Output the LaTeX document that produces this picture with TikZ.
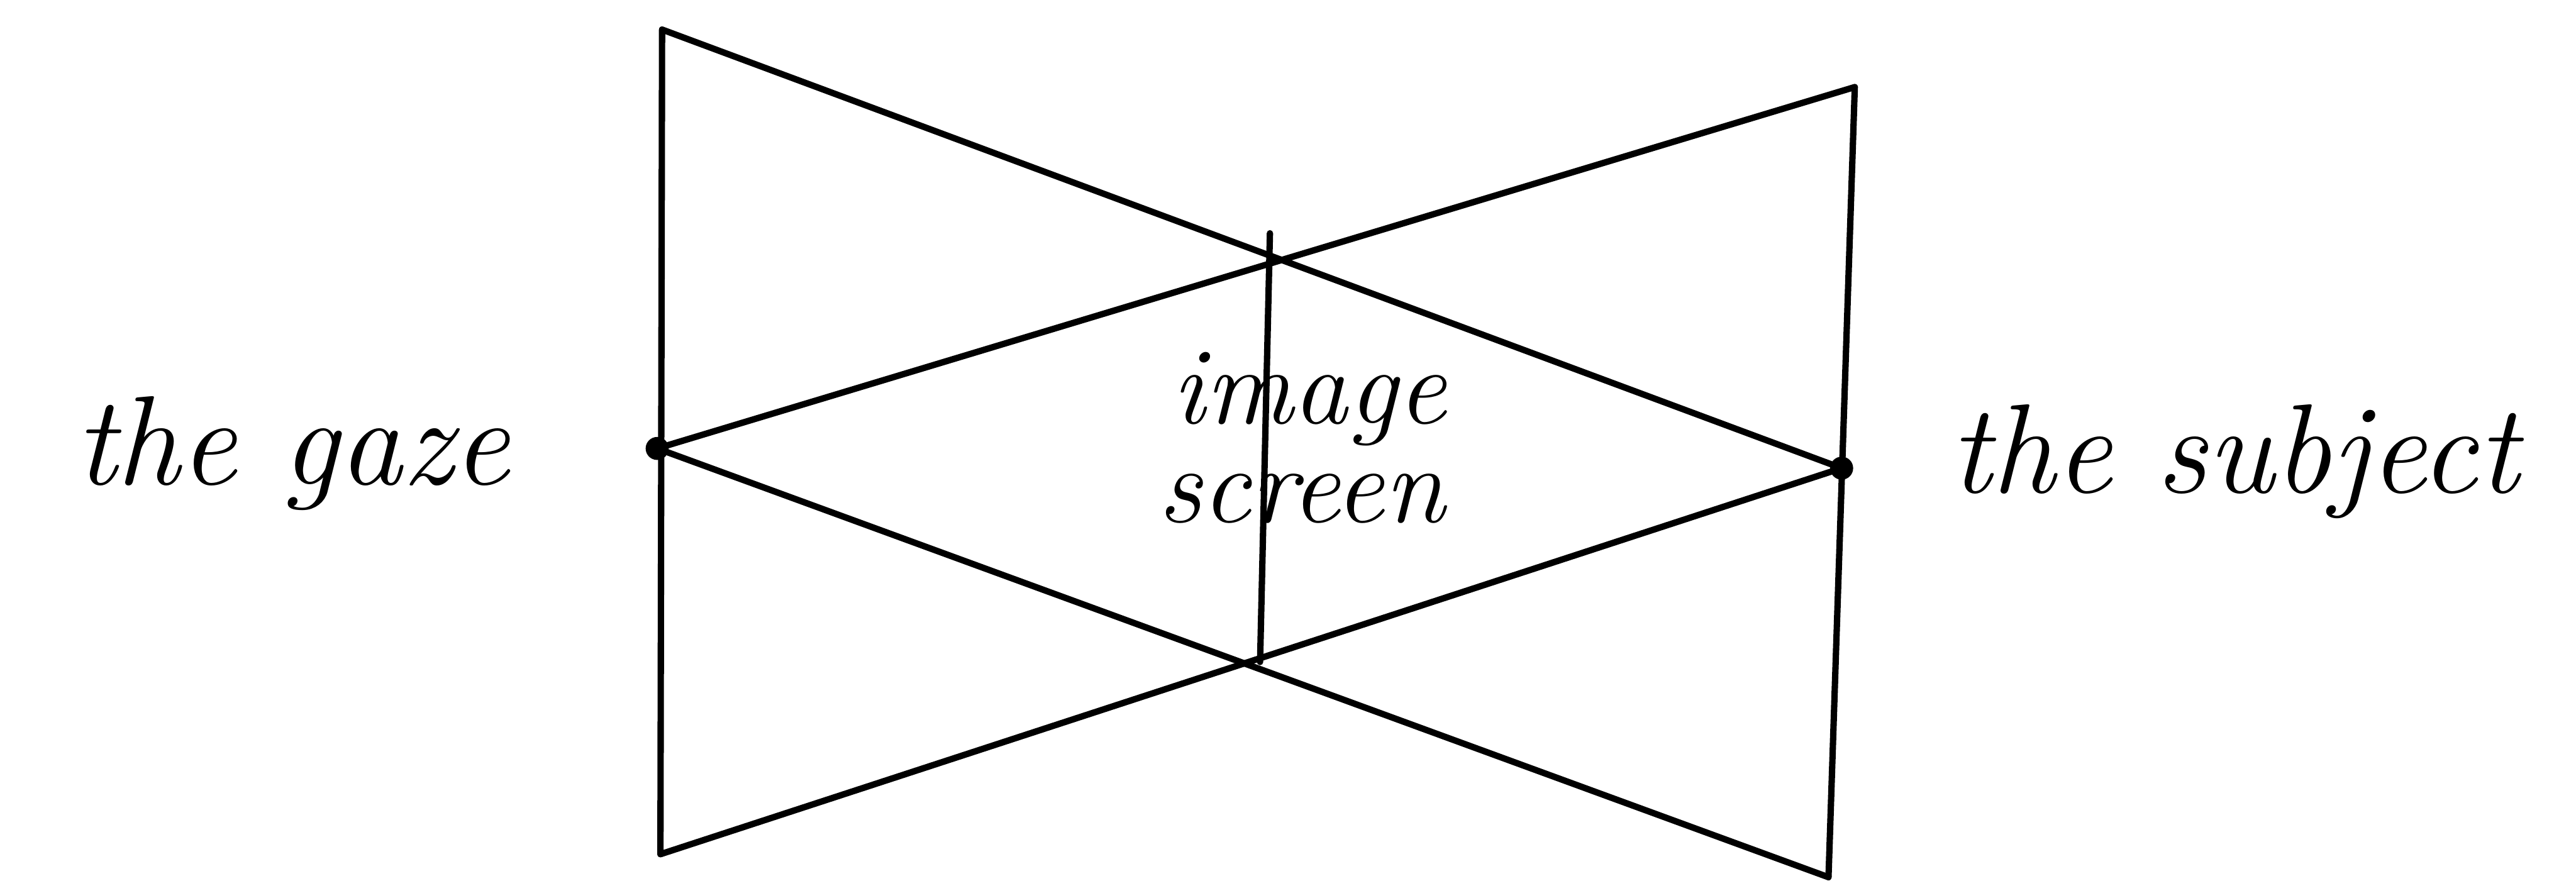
\documentclass[tikz,border=0pt]{standalone}
\usepackage{tikz}
\providecommand{\ink}{black}
\tikzset{
  stroke/.style = {\ink, line width = 1.1pt, line cap = round, line join = round},
  hand/.style = {text = \ink, inner sep = 0pt, font = \fontsize{22}{24}\selectfont\itshape},
  handsmall/.style = {hand, font = \fontsize{19}{21}\selectfont\itshape},
  dotmark/.style = {circle, fill = \ink, inner sep = 0pt, minimum size = 2.2mm}
}

\begin{document}
\begin{tikzpicture}[x = 0.1mm, y = -0.1mm]%
    \useasboundingbox (0, 0) rectangle (1568, 536);

    % frame corners and the two points
    \coordinate (tl) at (403, 18);
    \coordinate (bl) at (402, 520);
    \coordinate (tr) at (1129, 53);
    \coordinate (br) at (1113, 534);
    \coordinate (gaze) at (400, 273);
    \coordinate (subject) at (1121, 285);
    \coordinate (scrtop) at (773, 142);
    \coordinate (scrbot) at (767, 403);

    \draw[stroke] (tl) -- (bl);
    \draw[stroke] (tr) -- (br);
    \draw[stroke] (scrtop) -- (scrbot);

    \draw[stroke] (gaze) -- (tr);
    \draw[stroke] (gaze) -- (br);
    \draw[stroke] (subject) -- (tl);
    \draw[stroke] (subject) -- (bl);

    \node[dotmark, minimum size = 1.4mm] (gazedot) at (gaze) {};
    \node[dotmark, minimum size = 1.4mm] (subjectdot) at (subject) {};

    \node[hand, anchor = base] (gazelabel) at (178, 295) {the gaze};
    \node[hand, anchor = base] (subjectlabel) at (1360, 300) {the subject};
    \node[handsmall, anchor = base] (imagelabel) at (797, 258) {image};
    \node[handsmall, anchor = base] (screenlabel) at (792, 318) {screen};
  \end{tikzpicture}
\end{document}
